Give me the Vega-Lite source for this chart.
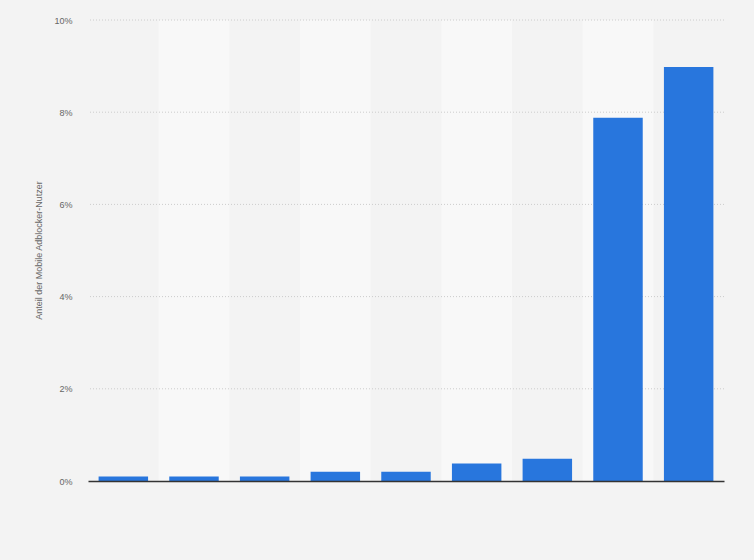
{
  "$schema": "https://vega.github.io/schema/vega-lite/v6.json",
  "width": 636,
  "height": 461,
  "autosize": "none",
  "padding": {"left": 88, "top": 20, "right": 30, "bottom": 79},
  "background": "#f3f3f3",
  "config": {
    "view": {"stroke": null},
    "font": "Liberation Sans"
  },
  "datasets": {
    "share": [
      {"k": "1", "v": 0.1},
      {"k": "2", "v": 0.1},
      {"k": "3", "v": 0.1},
      {"k": "4", "v": 0.2},
      {"k": "5", "v": 0.2},
      {"k": "6", "v": 0.38},
      {"k": "7", "v": 0.48},
      {"k": "8", "v": 7.88},
      {"k": "9", "v": 8.98}
    ],
    "stripes": [
      {"k": "2"}, {"k": "4"}, {"k": "6"}, {"k": "8"}
    ],
    "grid": [
      {"g": 2}, {"g": 4}, {"g": 6}, {"g": 8}, {"g": 10}
    ]
  },
  "layer": [
    {
      "data": {"name": "stripes"},
      "mark": {"type": "bar", "color": "#f8f8f8", "width": {"band": 1.4286}},
      "encoding": {
        "x": {
          "field": "k",
          "type": "nominal",
          "sort": null,
          "scale": {"domain": ["1", "2", "3", "4", "5", "6", "7", "8", "9"], "paddingInner": 0.3, "paddingOuter": 0.15},
          "axis": {"labels": false, "ticks": false, "title": null, "domainColor": "#333333", "domainWidth": 1.5, "zindex": 1}
        },
        "y": {"datum": 0, "type": "quantitative"},
        "y2": {"datum": 10}
      }
    },
    {
      "data": {"name": "grid"},
      "mark": {"type": "rule", "color": "#cccccc", "strokeDash": [1, 2], "strokeWidth": 1},
      "encoding": {
        "y": {"field": "g", "type": "quantitative"}
      }
    },
    {
      "data": {"name": "share"},
      "mark": {"type": "bar", "color": "#2876dd"},
      "encoding": {
        "x": {"field": "k", "type": "nominal", "sort": null},
        "y": {
          "field": "v",
          "type": "quantitative",
          "scale": {"domain": [0, 10]},
          "axis": {
            "values": [0, 2, 4, 6, 8, 10],
            "labelExpr": "datum.value + '%'",
            "title": "Anteil der Mobile Adblocker-Nutzer",
            "titleFontSize": 9,
            "titleFontWeight": "normal",
            "titleColor": "#666666",
            "titleX": -45,
            "titleY": 230,
            "labelFontSize": 9,
            "labelColor": "#666666",
            "labelPadding": 16,
            "ticks": false,
            "domain": false,
            "grid": false
          }
        }
      }
    }
  ]
}
